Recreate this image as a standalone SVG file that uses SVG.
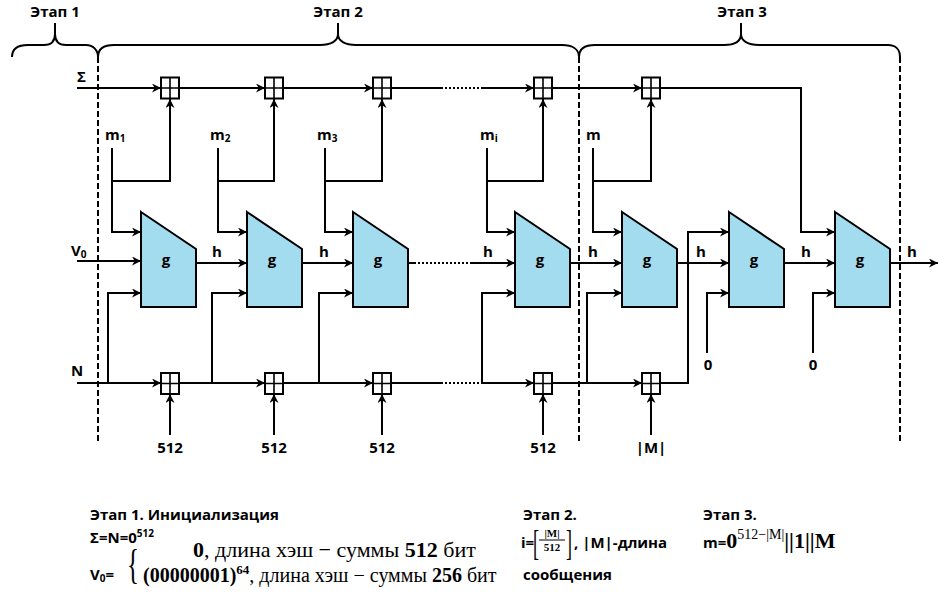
<svg xmlns="http://www.w3.org/2000/svg" width="952" height="607" viewBox="0 0 952 607">
<style>
.t{font-family:"Open Sans","Liberation Sans",sans-serif;font-weight:700;font-size:15px;fill:#000}
.c{text-anchor:middle}
.sub{font-size:10px}
.m{font-family:"Liberation Serif","DejaVu Serif",serif;font-size:20px;fill:#000}
.b{font-weight:700}
.ln{fill:none;stroke:#000;stroke-width:2}
.ar{marker-end:url(#a)}
.dot{fill:none;stroke:#000;stroke-width:2;stroke-dasharray:2 2}
.dash{fill:none;stroke:#000;stroke-width:2;stroke-dasharray:6 3}
.g{fill:#a3dcee;stroke:#000;stroke-width:2}
.add{fill:#fff;stroke:#000;stroke-width:2}
</style>
<defs>
<marker id="a" viewBox="0 0 10 10" refX="10" refY="5" markerWidth="10" markerHeight="9" orient="auto" markerUnits="userSpaceOnUse"><path d="M0,0 L10,5 L0,10 L3,5 z" fill="#000"/></marker>
<g id="adder-shape"><rect x="0" y="0" width="18" height="21" class="add"/><path d="M9,0 V21 M0,10.5 H18" stroke="#000" stroke-width="1.6"/></g>
</defs>

<g id="braces" class="ln">
<path d="M12,57 C12,49 18,45 28,45 L44,45 C51,45 55,41 55,34 L55,23 M55,34 C55,41 59,45 66,45 L86,45 C93,45 98,50 98,57"/>
<path d="M98,57 C98,49 104,45 114,45 L320,45 C331,45 338,41 338,34 L338,23 M338,34 C338,41 345,45 356,45 L562,45 C572,45 579,49 579,57"/>
<path d="M579,57 C579,49 585,45 595,45 L724,45 C735,45 741,41 741,34 L741,23 M741,34 C741,41 748,45 759,45 L888,45 C896,45 900,50 900,57"/>
</g>
<g id="stage-labels" class="t c">
<text x="55" y="17">Этап 1</text>
<text x="338" y="17">Этап 2</text>
<text x="742" y="17">Этап 3</text>
</g>
<g id="stage-dividers">
<path class="dash" d="M98,57 V444 M579,57 V444 M900,57 V444"/>
</g>

<g id="connectors">
<path class="ln ar" d="M77,88 H161"/>
<path class="ln ar" d="M179,88 H265"/>
<path class="ln ar" d="M283,88 H373"/>
<path class="ln" d="M391,88 H441"/>
<path class="dot" d="M441,88 H483"/>
<path class="ln ar" d="M483,88 H534"/>
<path class="ln ar" d="M552,88 H642"/>
<path class="ln ar" d="M660,88 H801 V232 H835"/>
<path class="ln ar" d="M112,148 V232 H141"/>
<path class="ln ar" d="M112,181 H170 V99"/>
<path class="ln ar" d="M218,148 V232 H247"/>
<path class="ln ar" d="M218,181 H274 V99"/>
<path class="ln ar" d="M325,148 V232 H353"/>
<path class="ln ar" d="M325,181 H382 V99"/>
<path class="ln ar" d="M487,148 V232 H515"/>
<path class="ln ar" d="M487,181 H543 V99"/>
<path class="ln ar" d="M593,148 V232 H622"/>
<path class="ln ar" d="M593,181 H651 V99"/>
<path class="ln ar" d="M77,261 H141"/>
<path class="ln ar" d="M196,263 H247"/>
<path class="ln ar" d="M302,263 H353"/>
<path class="ln" d="M408,263 H414"/>
<path class="dot" d="M414,263 H470"/>
<path class="ln ar" d="M470,263 H515"/>
<path class="ln ar" d="M570,263 H622"/>
<path class="ln ar" d="M677,263 H729"/>
<path class="ln ar" d="M784,263 H835"/>
<path class="ln ar" d="M890,263 H938"/>
<path class="ln ar" d="M108,383 V293 H141"/>
<path class="ln ar" d="M212,383 V293 H247"/>
<path class="ln ar" d="M319,383 V293 H353"/>
<path class="ln ar" d="M482,383 V293 H515"/>
<path class="ln ar" d="M587,383 V293 H622"/>
<path class="ln ar" d="M707,353 V293 H729"/>
<path class="ln ar" d="M813,353 V293 H835"/>
<path class="ln ar" d="M77,383 H161"/>
<path class="ln ar" d="M179,383 H265"/>
<path class="ln ar" d="M283,383 H373"/>
<path class="ln" d="M391,383 H441"/>
<path class="dot" d="M441,383 H482"/>
<path class="ln ar" d="M482,383 H534"/>
<path class="ln ar" d="M552,383 H642"/>
<path class="ln ar" d="M660,383 H688 V232 H729"/>
<path class="ln ar" d="M170,435 V394"/>
<path class="ln ar" d="M274,435 V394"/>
<path class="ln ar" d="M382,435 V394"/>
<path class="ln ar" d="M543,435 V394"/>
<path class="ln ar" d="M651,435 V394"/>
</g>

<g id="adders-sigma">
<use href="#adder-shape" x="161" y="77.5"/>
<use href="#adder-shape" x="265" y="77.5"/>
<use href="#adder-shape" x="373" y="77.5"/>
<use href="#adder-shape" x="534" y="77.5"/>
<use href="#adder-shape" x="642" y="77.5"/>
</g>
<g id="adders-n">
<use href="#adder-shape" x="161" y="373"/>
<use href="#adder-shape" x="265" y="373"/>
<use href="#adder-shape" x="373" y="373"/>
<use href="#adder-shape" x="534" y="373"/>
<use href="#adder-shape" x="642" y="373"/>
</g>

<g id="g1"><path class="g" d="M141,212 L196,249 V307 H141 Z"/><text class="t c" x="166" y="265">g</text></g>
<g id="g2"><path class="g" d="M247,212 L302,249 V307 H247 Z"/><text class="t c" x="272" y="265">g</text></g>
<g id="g3"><path class="g" d="M353,212 L408,249 V307 H353 Z"/><text class="t c" x="378" y="265">g</text></g>
<g id="g4"><path class="g" d="M515,212 L570,249 V307 H515 Z"/><text class="t c" x="540" y="265">g</text></g>
<g id="g5"><path class="g" d="M622,212 L677,249 V307 H622 Z"/><text class="t c" x="647" y="265">g</text></g>
<g id="g6"><path class="g" d="M729,212 L784,249 V307 H729 Z"/><text class="t c" x="754" y="265">g</text></g>
<g id="g7"><path class="g" d="M835,212 L890,249 V307 H835 Z"/><text class="t c" x="860" y="265">g</text></g>

<g id="labels" class="t">
<text x="77" y="82">Σ</text>
<text x="71" y="256">V<tspan class="sub" dy="2">0</tspan></text>
<text x="71" y="376">N</text>
<text x="105" y="140">m<tspan class="sub" dy="2">1</tspan></text>
<text x="210" y="140">m<tspan class="sub" dy="2">2</tspan></text>
<text x="317" y="140">m<tspan class="sub" dy="2">3</tspan></text>
<text x="480" y="140">m<tspan class="sub" dy="2">i</tspan></text>
<text x="586" y="140">m</text>
<g class="c">
<text x="217" y="257">h</text>
<text x="324" y="257">h</text>
<text x="488" y="257">h</text>
<text x="593" y="257">h</text>
<text x="701" y="257">h</text>
<text x="806" y="257">h</text>
<text x="912" y="257">h</text>
<text x="170" y="453">512</text>
<text x="274" y="453">512</text>
<text x="382" y="453">512</text>
<text x="543" y="453">512</text>
<text x="651" y="453">|M|</text>
<text x="708" y="370">0</text>
<text x="813" y="370">0</text>
</g>
</g>

<g id="notes">
<text class="t" x="90" y="520">Этап 1. Инициализация</text>
<text class="t" x="90" y="543">Σ=N=0<tspan class="sub" dy="-6">512</tspan></text>
<text class="t" x="90" y="580">V<tspan class="sub" dy="2">0</tspan><tspan dy="-2">=</tspan></text>
<text class="m" x="127" y="578" style="font-size:43px" transform="translate(127 0) scale(0.58 1) translate(-127 0)">{</text>
<text class="m" x="193" y="557" style="font-size:22px"><tspan class="b">0</tspan>, длина хэш − суммы <tspan class="b">512</tspan> бит</text>
<text class="m" x="143" y="582"><tspan class="b">(00000001)</tspan><tspan class="b" font-size="13" dy="-8">64</tspan><tspan dy="8">, длина хэш − суммы </tspan><tspan class="b">256</tspan> бит</text>

<text class="t" x="523" y="520">Этап 2.</text>
<text class="t" x="521" y="548">i=</text>
<text class="m" x="533" y="555" style="font-size:36px" transform="translate(533 0) scale(0.5 1) translate(-533 0)">[</text>
<text class="m c" x="552" y="537" style="font-size:11px;font-weight:700">|M|</text>
<path d="M539,540 H565" stroke="#000" stroke-width="1"/>
<text class="m c" x="552" y="551" style="font-size:11px;font-weight:700">512</text>
<text class="m" x="566" y="555" style="font-size:36px" transform="translate(566 0) scale(0.5 1) translate(-566 0)">]</text>
<text class="t" x="574" y="548">, |M|-длина</text>
<text class="t" x="523" y="580">сообщения</text>

<text class="t" x="703" y="548">m=<tspan font-family="Liberation Serif,serif" font-size="22">0</tspan><tspan font-family="Liberation Serif,serif" font-weight="400" font-size="14" dy="-9">512−|M|</tspan><tspan font-family="Liberation Serif,serif" font-size="22" dy="9">||1||M</tspan></text>
<text class="t" x="703" y="520">Этап 3.</text>
</g>
</svg>
